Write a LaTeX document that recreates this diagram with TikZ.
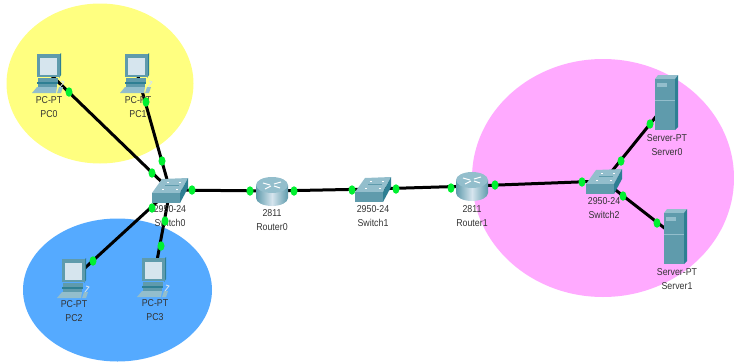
\documentclass[tikz,border=0pt]{standalone}
\usepackage{fontspec}
\usetikzlibrary{shapes.geometric}
\setmainfont[FakeStretch = 0.88]{Liberation Sans}
\definecolor{zoneyellow}{HTML}{FFFF80}
\definecolor{zoneblue}{HTML}{55AAFF}
\definecolor{zonepink}{HTML}{FFAAFF}
\definecolor{portgreen}{HTML}{00F030}
\definecolor{iconmid}{HTML}{5F9BAC}
\definecolor{icondark}{HTML}{2E7F93}
\definecolor{iconlight}{HTML}{93BECC}
\definecolor{iconpale}{HTML}{D6E5EE}
\tikzset{
	device/.style = { inner sep = 0, minimum size = 2 },
	link/.style = { line width = 3, black },
	portdot/.style = { fill = portgreen, ellipse, inner sep = 0, minimum width = 7, minimum height = 9.5 },
	tag/.style = { align = center, text = black!80, font = \fontsize{10}{14}\selectfont },
	pcicon/.pic = {
		\fill [icondark] ( 11, -19 ) -- ( 12, -20 ) -- ( 12, 2 ) -- ( 10, 5 ) -- cycle;
		\fill [iconmid] ( -12, -19 ) rectangle ( 11, 4 );
		\fill [iconpale] ( -9, -15 ) rectangle ( 8, 2 );
		\fill [iconmid] ( -11, 5 ) rectangle ( 9, 9 );
		\fill [icondark] ( -12, 9 ) rectangle ( 9, 11 );
		\fill [iconmid] ( -11, 11 ) rectangle ( 8, 14 );
		\fill [iconlight] ( -12, 14 ) -- ( 8, 14 ) -- ( 7, 20 ) -- ( -17, 20 ) -- cycle;
		\draw [iconpale, line width = 0.8] ( 11, 14 ) -- ( 15, 9 ) -- ( 12, 8 );
		\fill [iconlight] ( 10, 14 ) -- ( 14, 14 ) -- ( 12, 20 ) -- ( 8, 20 ) -- cycle;
	},
	switchicon/.pic = {
		\fill [iconlight] ( -18, 3 ) -- ( -8, -11 ) -- ( 18, -12 ) -- ( 10, 3 ) -- cycle;
		\fill [iconmid] ( -18, 3 ) rectangle ( 10, 13 );
		\fill [icondark] ( 10, 3 ) -- ( 18, -12 ) -- ( 18, -2 ) -- ( 10, 13 ) -- cycle;
		\draw [white, line width = 0.8] ( -8, -1 ) -- ( -6, -1 ) ( 6, -1 ) -- ( 8, -1 ) ( -3, -8 ) -- ( -1, -8 ) ( 9, -8 ) -- ( 11, -8 );
		\draw [iconmid, line width = 0.5] ( -5, -5 ) -- ( 9, -5 );
	},
	routericon/.pic = {
		\shade [left color = iconmid, right color = iconmid, middle color = iconpale] ( -16, -6 ) -- ( -16, 7 ) arc [start angle = 180, end angle = 0, x radius = 16, y radius = 8] -- ( 16, -6 ) -- cycle;
		\fill [iconlight] ( 0, -6 ) ellipse [x radius = 16, y radius = 8];
		\draw [white, line width = 1] ( -9, -8 ) -- ( -2, -6 ) ( 9, -9 ) -- ( 2, -7 ) ( -7, -2 ) -- ( -1, -5 ) ( 8, -3 ) -- ( 2, -5 );
	},
	servericon/.pic = {
		\fill [iconlight] ( -12, -24 ) -- ( -9, -28 ) -- ( 11, -28 ) -- ( 8, -24 ) -- cycle;
		\fill [icondark] ( 8, -24 ) -- ( 11, -28 ) -- ( 11, 24 ) -- ( 8, 27 ) -- cycle;
		\fill [iconmid] ( -12, -24 ) rectangle ( 8, 27 );
		\fill [iconlight] ( -10, -20 ) rectangle ( 0, -16 );
		\draw [iconlight, line width = 0.5] ( -12, -3 ) -- ( 8, -3 );
	}
}
\begin{document}
\begin{tikzpicture}[x = 1pt, y = -1pt]
	\clip ( 0, 0 ) rectangle ( 734, 362 );
	\fill [zoneyellow] ( 100, 83.5 ) ellipse [x radius = 93.5, y radius = 80];
	\fill [zoneblue] ( 117.5, 290 ) ellipse [x radius = 94.5, y radius = 71.5];
	\fill [zonepink] ( 603, 178 ) ellipse [x radius = 131, y radius = 119];
	\node [device] (pc0) at ( 49, 73 ) {};
	\node [device] (pc1) at ( 137, 73 ) {};
	\node [device] (pc2) at ( 74, 278 ) {};
	\node [device] (pc3) at ( 154, 277 ) {};
	\node [device] (switch0) at ( 170, 190 ) {};
	\node [device] (router0) at ( 272, 191 ) {};
	\node [device] (switch1) at ( 373, 189 ) {};
	\node [device] (router1) at ( 472, 186 ) {};
	\node [device] (switch2) at ( 604, 181 ) {};
	\node [device] (server0) at ( 667, 103 ) {};
	\node [device] (server1) at ( 676, 237 ) {};
	\foreach \from/\to in {pc0/switch0, pc1/switch0, pc2/switch0, pc3/switch0, switch0/router0, router0/switch1, switch1/router1, router1/switch2, switch2/server0, switch2/server1}
		\draw [link] (\from.center) -- (\to.center);
	\foreach \name in {pc0, pc1, pc2, pc3}
		\pic at (\name) {pcicon};
	\foreach \name in {switch0, switch1, switch2}
		\pic at (\name) {switchicon};
	\foreach \name in {router0, router1}
		\pic at (\name) {routericon};
	\foreach \name in {server0, server1}
		\pic at (\name) {servericon};
	\node [tag] (pc0tag) at ( 49, 107 ) {PC-PT\\PC0};
	\node [tag] (pc1tag) at ( 138, 107 ) {PC-PT\\PC1};
	\node [tag] (pc2tag) at ( 74, 311 ) {PC-PT\\PC2};
	\node [tag] (pc3tag) at ( 155, 310 ) {PC-PT\\PC3};
	\node [tag] (switch0tag) at ( 170, 216 ) {2950-24\\Switch0};
	\node [tag] (router0tag) at ( 272, 220 ) {2811\\Router0};
	\node [tag] (switch1tag) at ( 373, 216 ) {2950-24\\Switch1};
	\node [tag] (router1tag) at ( 472, 216 ) {2811\\Router1};
	\node [tag] (switch2tag) at ( 604, 208 ) {2950-24\\Switch2};
	\node [tag] (server0tag) at ( 667, 145 ) {Server-PT\\Server0};
	\node [tag] (server1tag) at ( 677, 279 ) {Server-PT\\Server1};
	\foreach \x/\y [count = \i] in {69/92, 152/173, 146/102, 162/161, 93/261, 152/208, 161/246, 165/221, 192/190, 250/191, 294/191, 352/190, 396/189, 451/188, 495/185, 582/182, 621/161, 650/124, 623/196, 657/223}
		\node [portdot] (port\i) at ( \x, \y ) {};
\end{tikzpicture}
\end{document}
